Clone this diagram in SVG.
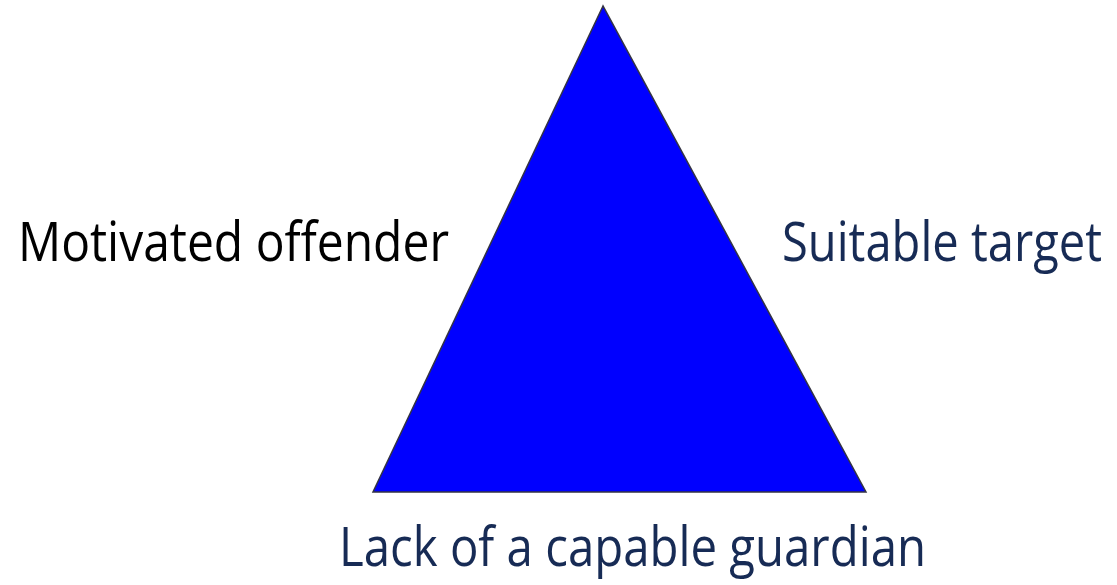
<svg xmlns="http://www.w3.org/2000/svg" width="1117" height="585" viewBox="0 0 1117 585">
  <style>
    .lbl { font-family: "Open Sans", "Liberation Sans", sans-serif; font-size: 54px; font-weight: 500; }
    .dark { fill: #000000; }
    .navy { fill: #172B55; }
  </style>
  <rect width="1117" height="585" fill="#ffffff"/>
  <g id="triangle">
    <polygon points="603,6 373,492 866,492" fill="#0000FF" stroke="#333344" stroke-width="1.5" stroke-linejoin="miter"/>
  </g>
  <g id="motivated-offender">
    <text class="lbl dark" x="18" y="261" textLength="431" lengthAdjust="spacingAndGlyphs">Motivated offender</text>
  </g>
  <g id="suitable-target">
    <text class="lbl navy" x="1102" y="261" text-anchor="end" textLength="320" lengthAdjust="spacingAndGlyphs">Suitable target</text>
  </g>
  <g id="lack-of-guardian">
    <text class="lbl navy" x="339" y="566" textLength="587" lengthAdjust="spacingAndGlyphs">Lack of a capable guardian</text>
  </g>
  <g id="connectors"></g>
</svg>
